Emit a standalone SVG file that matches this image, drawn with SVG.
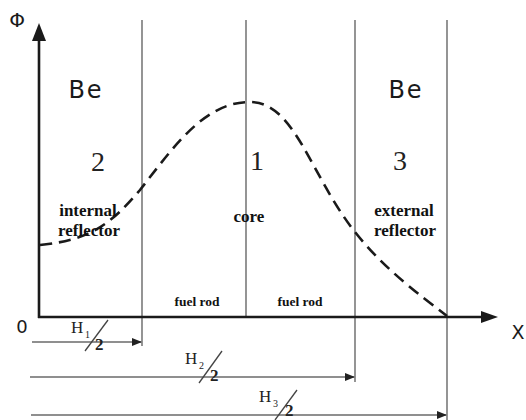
<svg xmlns="http://www.w3.org/2000/svg" width="526" height="420" viewBox="0 0 526 420">
<style>
.axis{stroke:#1a1a1a;stroke-width:2.6;fill:none}
.vl{stroke:#7a7a7a;stroke-width:1.6;fill:none}
.dim{stroke:#6a6a6a;stroke-width:1.5;fill:none}
.curve{stroke:#1a1a1a;stroke-width:2.6;fill:none;stroke-dasharray:12 7}
.sans{font-family:"DejaVu Sans","Liberation Sans",sans-serif;fill:#1a1a1a}
.num{font-family:"Liberation Serif","Times New Roman",serif;font-size:28px;fill:#222;text-anchor:middle}
.lbl{font-family:"Liberation Serif","Times New Roman",serif;font-weight:bold;font-size:17px;fill:#111;text-anchor:middle}
.small{font-family:"Liberation Serif","Times New Roman",serif;font-weight:bold;font-size:13.5px;fill:#111;text-anchor:middle}
.h{font-family:"Liberation Serif","Times New Roman",serif;font-size:17px;fill:#222}
.sub{font-family:"Liberation Serif","Times New Roman",serif;font-size:10px;fill:#222}
.slash{stroke:#444;stroke-width:1.3}
</style>
<defs>
<marker id="ah" markerWidth="10" markerHeight="8" refX="9" refY="4" orient="auto" markerUnits="userSpaceOnUse">
<path d="M0,0 L10,4 L0,8 Z" fill="#222"/>
</marker>
</defs>
<rect width="526" height="420" fill="#fff"/>
<g id="region-lines">
<line class="vl" x1="142" y1="20" x2="142" y2="346"/>
<line class="vl" x1="246" y1="20" x2="246" y2="317"/>
<line class="vl" x1="355" y1="20" x2="355" y2="382"/>
<line class="vl" x1="447" y1="20" x2="447" y2="420"/>
</g>
<g id="axes">
<line class="axis" x1="39" y1="38" x2="39" y2="318"/>
<path d="M39,23 L46,41 L32,41 Z" fill="#1a1a1a"/>
<line class="axis" x1="38" y1="317" x2="484" y2="317"/>
<path d="M498,317 L481,311 L481,323 Z" fill="#1a1a1a"/>
<text class="sans" x="17" y="27" font-size="20" text-anchor="middle">Φ</text>
<text class="sans" x="22" y="333" font-size="18" text-anchor="middle">0</text>
<text class="sans" x="518" y="339" font-size="19" text-anchor="middle">X</text>
</g>
<g id="curve">
<path class="curve" d="M40,245 C90,240 110,225 140,190 C175,145 205,102 250,102 C295,102 310,175 355,232 C385,270 420,295 447,316"/>
</g>
<g id="region-2">
<text class="sans" x="86" y="98" font-size="24" letter-spacing="2" text-anchor="middle">Be</text>
<text class="num" x="98" y="171">2</text>
<text class="lbl" x="88" y="216">internal</text>
<text class="lbl" x="89" y="236">reflector</text>
</g>
<g id="region-1">
<text class="num" x="257" y="170">1</text>
<text class="lbl" x="249" y="222">core</text>
<text class="small" x="197" y="306">fuel rod</text>
<text class="small" x="300" y="306">fuel rod</text>
</g>
<g id="region-3">
<text class="sans" x="406" y="98" font-size="24" letter-spacing="2" text-anchor="middle">Be</text>
<text class="num" x="400" y="170">3</text>
<text class="lbl" x="404" y="216">external</text>
<text class="lbl" x="405" y="236">reflector</text>
</g>
<g id="connectors">
<line class="dim" x1="32" y1="342" x2="141" y2="342" marker-end="url(#ah)"/>
<line class="dim" x1="30" y1="377" x2="354" y2="377" marker-end="url(#ah)"/>
<line class="dim" x1="31" y1="415" x2="446" y2="415" marker-end="url(#ah)"/>
</g>
<g id="dim-H1">
<text class="h" x="71" y="333">H</text>
<text class="sub" x="85" y="338">1</text>
<line class="slash" x1="85" y1="351" x2="108" y2="320"/>
<text class="h" x="95" y="350" font-weight="bold" font-size="16">2</text>
</g>
<g id="dim-H2">
<text class="h" x="185" y="364">H</text>
<text class="sub" x="199" y="369">2</text>
<line class="slash" x1="199" y1="383" x2="222" y2="351"/>
<text class="h" x="210" y="381" font-weight="bold" font-size="16">2</text>
</g>
<g id="dim-H3">
<text class="h" x="259" y="402">H</text>
<text class="sub" x="273" y="407">3</text>
<line class="slash" x1="275" y1="420" x2="297" y2="390"/>
<text class="h" x="285" y="416" font-weight="bold" font-size="13">2</text>
</g>
</svg>
